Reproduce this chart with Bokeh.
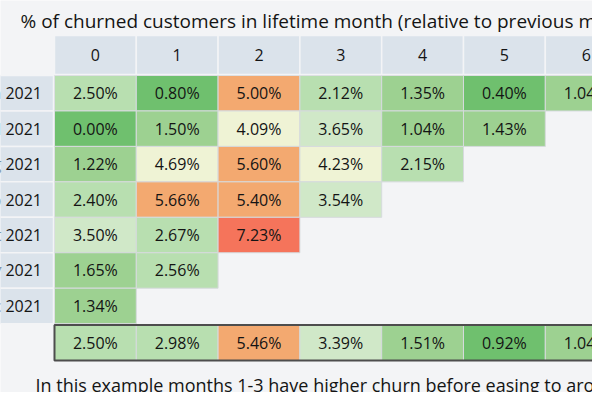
from bokeh.plotting import figure
from bokeh.models import Range1d, ColumnDataSource
from bokeh.transform import linear_cmap
from bokeh.core.properties import value
from bokeh.embed import file_html
from bokeh.resources import INLINE

title = "% of churned customers in lifetime month (relative to previous month)"
note = "In this example months 1-3 have higher churn before easing to around 1% per month"
cohorts = ["Jun 2021", "Jul 2021", "Aug 2021", "Sep 2021", "Oct 2021", "Nov 2021", "Dec 2021"]
months = ["0", "1", "2", "3", "4", "5", "6"]
jun = [2.50, 0.80, 5.00, 2.12, 1.35, 0.40, 1.04]
jul = [0.00, 1.50, 4.09, 3.65, 1.04, 1.43]
aug = [1.22, 4.69, 5.60, 4.23, 2.15]
sep = [2.40, 5.66, 5.40, 3.54]
oct_ = [3.50, 2.67, 7.23]
nov = [1.65, 2.56]
dec = [1.34]
average = [2.50, 2.98, 5.46, 3.39, 1.51, 0.92, 1.04]
rows = [jun, jul, aug, sep, oct_, nov, dec]

palette = ["#6fc06e", "#9dd191", "#b8dfb0", "#d0e8c8", "#eff3d5", "#f3a970", "#f3a970", "#f5745b"]

FONT = "Open Sans"
BG = "#f3f4f6"
HEAD = "#dbe3eb"
INK = "#141414"

p = figure(width=592, height=392, output_backend="svg", toolbar_location=None,
           x_range=Range1d(-0.660, 6.577), y_range=Range1d(8.942, -2.116),
           min_border=0, background_fill_color=BG, border_fill_color=BG,
           outline_line_color=None)
p.axis.visible = False
p.grid.visible = False

# cells
cx, cy, cv, ct = [], [], [], []
for r, vals in enumerate(rows):
    for c, v in enumerate(vals):
        cx.append(c)
        cy.append(r)
        cv.append(v)
        ct.append(f"{v:.2f}%")
for c, v in enumerate(average):
    cx.append(c)
    cy.append(len(rows) + 0.04)
    cv.append(v)
    ct.append(f"{v:.2f}%")

src = ColumnDataSource(dict(left=cx, right=[x + 1 for x in cx], top=cy,
                            bottom=[y + 1 for y in cy],
                            xc=[x + 0.5 for x in cx], yc=[y + 0.5 for y in cy],
                            v=cv, t=ct))
p.quad(left="left", right="right", top="top", bottom="bottom", source=src,
       fill_color=linear_cmap("v", palette, 0, 8), line_color="#d6dadd", line_width=1)
p.text(x="xc", y="yc", text="t", source=src, text_align="center", text_baseline="middle",
       text_font=value(FONT), text_font_size="16px", text_color=INK)

# summary border
n = len(rows) + 0.04
p.quad(left=[0], right=[8], top=[n], bottom=[n + 1], fill_color=None,
       line_color="#4d4d4d", line_width=2)

# header
hx = list(range(len(months)))
p.quad(left=hx, right=[x + 1 for x in hx], top=[-1.13] * len(hx), bottom=[-0.03] * len(hx),
       fill_color=HEAD, line_color=BG, line_width=1.5)
p.text(x=[x + 0.5 for x in hx], y=[-0.58] * len(hx), text=months, text_align="center",
       text_baseline="middle", text_font=value(FONT), text_font_size="16px", text_color=INK)

# row labels
ry = list(range(len(cohorts)))
p.quad(left=[-1.0] * len(ry), right=[-0.012] * len(ry), top=ry, bottom=[y + 1 for y in ry],
       fill_color=HEAD, line_color=BG, line_width=1.5)
p.text(x=[-0.153] * len(ry), y=[y + 0.5 for y in ry], text=cohorts, text_align="right",
       text_baseline="middle", text_font=value(FONT), text_font_size="16px", text_color=INK)

# title and note
p.text(x=[-0.4156], y=[-1.532], text=[title], text_align="left", text_baseline="alphabetic",
       text_font=value(FONT), text_font_size="19px", text_color=INK)
p.text(x=[-0.232], y=[8.72], text=[note], text_align="left", text_baseline="alphabetic",
       text_font=value(FONT), text_font_size="18px", text_color=INK)

open("out.html", "w").write(file_html(p, INLINE))
